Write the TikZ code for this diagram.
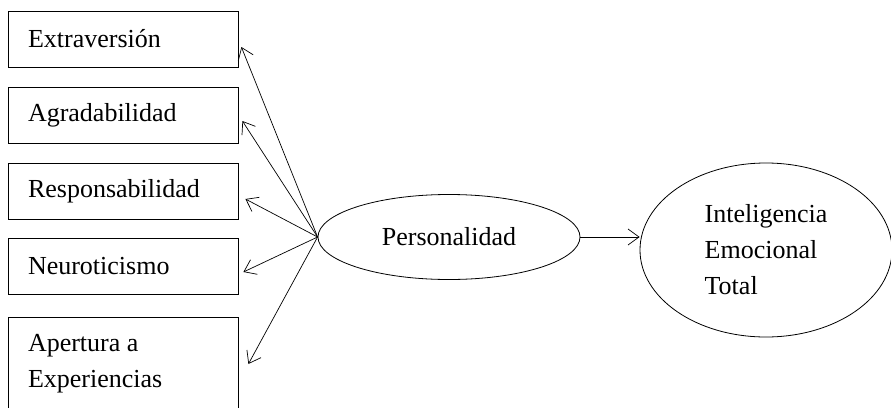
\documentclass[tikz,border=0pt]{standalone}
\usepackage{fontspec}
\setmainfont{Liberation Serif}
\usetikzlibrary{shapes.geometric, positioning, arrows.meta}

\tikzset{
  box/.style={draw, rectangle, line width=0.8pt, minimum width=230pt, minimum height=56pt,
    text width=190pt, inner xsep=20pt, align=flush left},
  latent/.style={draw, ellipse, line width=0.8pt},
  link/.style={-{Straight Barb[length=11pt,width=16pt]}, line width=0.7pt}
}

\begin{document}
\begin{tikzpicture}[x=1pt, y=-1pt, node distance=76pt, on grid,
    font=\fontsize{26}{36}\selectfont]
   \useasboundingbox (0,0) rectangle (891,407);
   % cajas de los cinco factores
   \node[box] (extra) at (123,39) {Extraversión};
   \node[box] (agrad) [below=of extra] {Agradabilidad};
   \node[box] (respo) [below=of agrad] {Responsabilidad};
   \node[box] (neuro) [below=75pt of respo] {Neuroticismo};
   \node[box, minimum height=94pt] (apert) [below=98pt of neuro] {Apertura a\\Experiencias};

   % variables latentes
   \node[latent, minimum width=262pt, minimum height=85pt] (pers) at (449,237) {Personalidad};
   \node[latent, minimum width=252pt, minimum height=174pt, align=flush left] (ie) at (766,250)
      {Inteligencia\\Emocional\\Total};

   \path[link]
    (pers.west) edge ([xshift=3pt,yshift=-8pt]extra.east)
    (pers.west) edge ([xshift=4pt,yshift=-6pt]agrad.east)
    (pers.west) edge ([xshift=7pt,yshift=-8pt]respo.east)
    (pers.west) edge ([xshift=5pt,yshift=-6pt]neuro.east)
    (pers.west) edge ([xshift=10pt,yshift=0pt]apert.east)
    (pers.east) edge (pers.east -| ie.west)
    ;
\end{tikzpicture}
\end{document}
